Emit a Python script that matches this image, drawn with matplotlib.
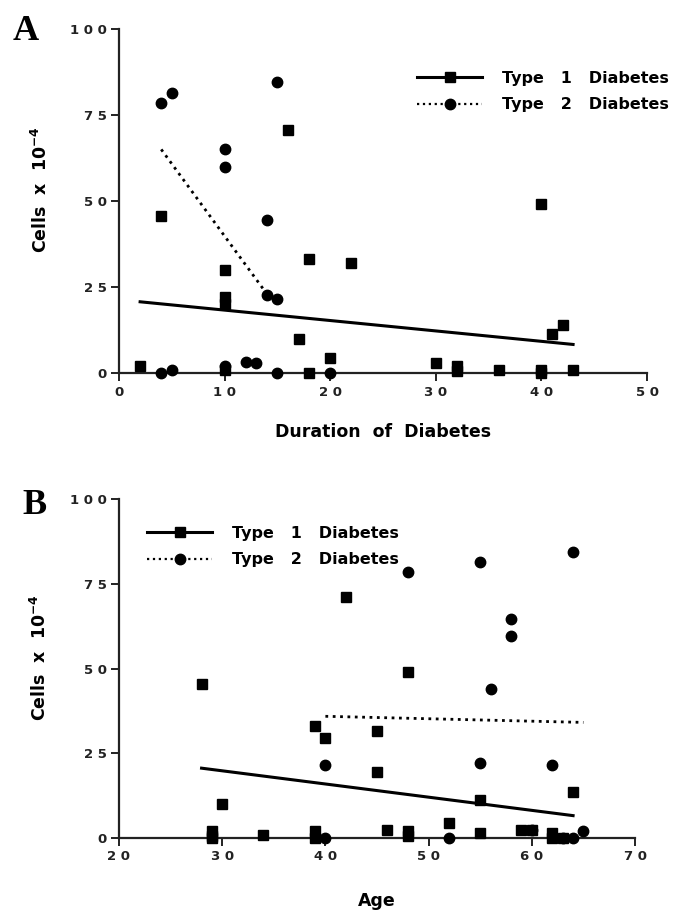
import matplotlib
matplotlib.use("Agg")
import matplotlib.pyplot as plt
from matplotlib.lines import Line2D

# ---------------- Data: Panel A (duration of diabetes) ----------------
a_t1_x = [2, 4, 10, 10, 10, 10, 16, 17, 18, 18, 20, 22, 30, 32, 32, 36, 40, 40, 40, 41, 42, 43]
a_t1_y = [2, 45.5, 30, 22, 20, 1, 70.6, 10, 33, 0, 4.5, 32, 3, 2, 0.5, 1, 49, 1, 0, 11.3, 14, 1]
a_t2_x = [4, 5, 15, 10, 10, 14, 14, 15, 4, 5, 10, 12, 13, 15, 20]
a_t2_y = [78.6, 81.5, 84.5, 65, 60, 44.5, 22.7, 21.5, 0, 0.8, 2, 3.3, 2.9, 0, 0]
a_fit1_x = [2, 43]
a_fit1_y = [20.7, 8.3]
a_fit2_x = [4, 14]
a_fit2_y = [65, 23]

# ---------------- Data: Panel B (age) ----------------
b_t1_x = [28, 29, 29, 29, 30, 34, 39, 39, 39, 40, 42, 45, 45, 46, 48, 48, 48, 52, 55, 55, 59, 60, 62, 62, 63, 64]
b_t1_y = [45.5, 2, 0.5, 0, 10, 1, 33, 2, 0, 29.5, 71, 31.5, 19.4, 2.5, 49, 2, 0.5, 4.4, 11.3, 1.5, 2.5, 2.5, 1.5, 0, 0, 13.5]
b_t2_x = [40, 40, 48, 52, 55, 55, 56, 58, 58, 60, 62, 63, 64, 64, 65]
b_t2_y = [21.6, 0, 78.5, 0, 81.5, 22, 44, 64.5, 59.5, 2.5, 21.6, 0, 84.5, 0, 2]
b_fit1_x = [28, 64]
b_fit1_y = [20.6, 6.6]
b_fit2_x = [40, 65]
b_fit2_y = [35.9, 34.1]

y_ticks = [0, 25, 50, 75, 100]
a_x_ticks = [0, 10, 20, 30, 40, 50]
b_x_ticks = [20, 30, 40, 50, 60, 70]
legend_labels = ["Type   1   Diabetes", "Type   2   Diabetes"]

plt.rcParams['font.family'] = ['DejaVu Sans']
plt.rcParams['font.weight'] = 'bold'
plt.rcParams['mathtext.default'] = 'bf'

W, H = 673, 915
fig = plt.figure(figsize=(W / 100, H / 100), dpi=100)

def px_axes(left, top, right, bottom):
    return fig.add_axes([left / W, 1 - bottom / H, (right - left) / W, (bottom - top) / H])

def spaced(v):
    return ' '.join(str(v))

def style(ax, xlim, xticks, xlabel, ylab_xy, xlab_y):
    ax.set_xlim(*xlim)
    ax.set_ylim(0, 100)
    ax.set_xticks(xticks)
    ax.set_xticklabels([spaced(t) for t in xticks])
    ax.set_yticks(y_ticks)
    ax.set_yticklabels([spaced(t) for t in y_ticks])
    for s in ['top', 'right']:
        ax.spines[s].set_visible(False)
    for s in ['left', 'bottom']:
        ax.spines[s].set_linewidth(1.6)
        ax.spines[s].set_color('#222222')
    ax.tick_params(direction='out', length=6, width=1.4, labelsize=9.5, colors='#222222', pad=3)
    for lab in ax.get_xticklabels() + ax.get_yticklabels():
        lab.set_fontweight('bold')
    ax.set_xlabel(xlabel, fontsize=12.5, fontweight='bold')
    ax.set_ylabel(r'Cells  x  10$^{-4}$', fontsize=12.5, fontweight='bold')
    ax.yaxis.set_label_coords(*ylab_xy)
    ax.xaxis.set_label_coords(0.5, xlab_y)

def draw(ax, t1x, t1y, t2x, t2y, f1x, f1y, f2x, f2y):
    ax.plot(t1x, t1y, 's', color='black', ms=7, clip_on=False, zorder=3)
    ax.plot(t2x, t2y, 'o', color='black', ms=7.5, clip_on=False, zorder=3)
    ax.plot(f1x, f1y, '-', color='black', lw=2.2, zorder=2)
    ax.plot(f2x, f2y, ':', color='black', lw=2.0, zorder=2)

def legend(ax, loc, bbox):
    handles = [
        Line2D([], [], color='black', lw=2.2, ls='-', marker='s', ms=7),
        Line2D([], [], color='black', lw=1.6, ls=':', marker='o', ms=7.5),
    ]
    ax.legend(handles, legend_labels, loc=loc, bbox_to_anchor=bbox, frameon=False,
              handlelength=4.1, prop={'weight': 'bold', 'size': 11.5},
              labelspacing=0.7, handletextpad=1.25, borderaxespad=0, borderpad=0)

# Panel A
axA = px_axes(119, 29, 647, 373)
draw(axA, a_t1_x, a_t1_y, a_t2_x, a_t2_y, a_fit1_x, a_fit1_y, a_fit2_x, a_fit2_y)
style(axA, (0, 50), a_x_ticks, 'Duration  of  Diabetes', (-0.128, 0.532), -0.145)
legend(axA, 'upper left', ((417 - 119) / 528, (373 - 71) / 344))

# Panel B
axB = px_axes(119, 499, 635, 838)
draw(axB, b_t1_x, b_t1_y, b_t2_x, b_t2_y, b_fit1_x, b_fit1_y, b_fit2_x, b_fit2_y)
style(axB, (20, 70), b_x_ticks, 'Age', (-0.134, 0.531), -0.158)
legend(axB, 'upper left', ((147 - 119) / 516, (838 - 526) / 339))

fig.text(13 / W, 1 - 32 / H, 'A', family='Liberation Serif', fontweight='bold', fontsize=26, va='center')
fig.text(22 / W, 1 - 505 / H, 'B', family='Liberation Serif', fontweight='bold', fontsize=26, va='center')

fig.savefig('out.png', dpi=100)
